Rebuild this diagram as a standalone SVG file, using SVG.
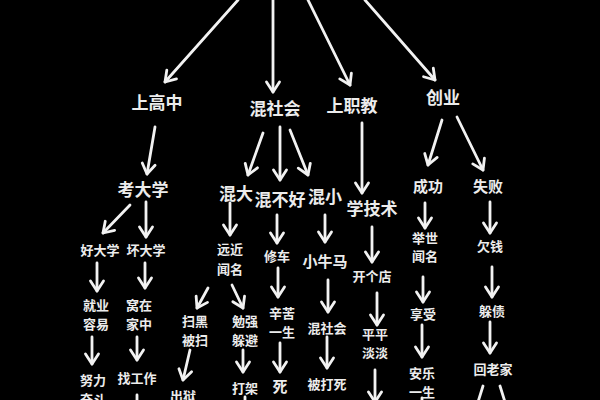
<svg xmlns="http://www.w3.org/2000/svg" width="600" height="400" viewBox="0 0 600 400">
<defs>
<style>
text{font-family:"Noto Sans CJK SC","Noto Sans",sans-serif;fill:#ececec;text-anchor:middle;dominant-baseline:central;font-weight:bold}
.l{font-size:17px}
.m{font-size:15px}
.s{font-size:13px}
.c line{stroke:#f2f2f2;stroke-width:2.8;stroke-linecap:round;marker-end:url(#ah)}
.c .p{marker-end:none}
</style>
<marker id="ah" markerUnits="userSpaceOnUse" markerWidth="24" markerHeight="24" viewBox="-12 -12 24 24" refX="0" refY="0" orient="auto">
<path d="M-10,-6.5 L0,0 L-10,6.5" fill="none" stroke="#f2f2f2" stroke-width="2.8" stroke-linecap="round" stroke-linejoin="round"/>
</marker>
</defs>
<rect width="600" height="400" fill="#000"/>
<g id="connectors" class="c">
<line x1="238" y1="0" x2="165" y2="82"/>
<line x1="273" y1="0" x2="273" y2="92"/>
<line x1="308" y1="0" x2="350" y2="85"/>
<line x1="365" y1="0" x2="435" y2="80"/>
<line x1="155" y1="127" x2="147" y2="174"/>
<line x1="263" y1="133" x2="248" y2="175"/>
<line x1="280" y1="127" x2="280" y2="180"/>
<line x1="290" y1="130" x2="308" y2="175"/>
<line x1="362" y1="123" x2="362" y2="193"/>
<line x1="442" y1="120" x2="428" y2="165"/>
<line x1="457" y1="117" x2="483" y2="170"/>
<line x1="130" y1="205" x2="103" y2="233"/>
<line x1="146" y1="202" x2="146" y2="237"/>
<line x1="230" y1="203" x2="230" y2="235"/>
<line x1="277" y1="215" x2="277" y2="243"/>
<line x1="325" y1="215" x2="325" y2="242"/>
<line x1="372" y1="227" x2="372" y2="262"/>
<line x1="425" y1="203" x2="425" y2="228"/>
<line x1="490" y1="202" x2="490" y2="233"/>
<line x1="97" y1="263" x2="97" y2="291"/>
<line x1="145" y1="263" x2="145" y2="288"/>
<line x1="208" y1="288" x2="197" y2="308"/>
<line x1="232" y1="285" x2="243" y2="308"/>
<line x1="278" y1="268" x2="278" y2="297"/>
<line x1="328" y1="280" x2="328" y2="312"/>
<line x1="377" y1="293" x2="377" y2="325"/>
<line x1="423" y1="277" x2="423" y2="302"/>
<line x1="492" y1="267" x2="492" y2="297"/>
<line x1="92" y1="337" x2="92" y2="364"/>
<line x1="137" y1="337" x2="137" y2="360"/>
<line x1="190" y1="350" x2="183" y2="380"/>
<line x1="243" y1="350" x2="243" y2="372"/>
<line x1="280" y1="343" x2="280" y2="372"/>
<line x1="327" y1="337" x2="327" y2="368"/>
<line x1="375" y1="370" x2="375" y2="402"/>
<line x1="422" y1="325" x2="422" y2="357"/>
<line x1="490" y1="322" x2="490" y2="353"/>
<line class="p" x1="137" y1="395" x2="137" y2="402"/>
<line class="p" x1="245" y1="397" x2="245" y2="402"/>
<line class="p" x1="422" y1="398" x2="422" y2="402"/>
<line class="p" x1="483" y1="386" x2="478" y2="402"/>
<line class="p" x1="500" y1="386" x2="505" y2="402"/>
</g>
<g id="n-shanggaozhong"><text class="l" x="157" y="101">上高中</text></g>
<g id="n-hunshehui"><text class="l" x="275" y="107">混社会</text></g>
<g id="n-shangzhijiao"><text class="l" x="352" y="104">上职教</text></g>
<g id="n-chuangye"><text class="l" x="443" y="96">创业</text></g>
<g id="n-kaodaxue"><text class="l" x="143" y="188">考大学</text></g>
<g id="n-hunda"><text class="l" x="236" y="192">混大</text></g>
<g id="n-hunbuhao"><text class="l" x="280" y="198">混不好</text></g>
<g id="n-hunxiao"><text class="l" x="325" y="195">混小</text></g>
<g id="n-xuejishu"><text class="l" x="372" y="207">学技术</text></g>
<g id="n-chenggong"><text class="m" x="428" y="185">成功</text></g>
<g id="n-shibai"><text class="m" x="488" y="185">失败</text></g>
<g id="n-haodaxue"><text class="s" x="100" y="249">好大学</text></g>
<g id="n-huaidaxue"><text class="s" x="146" y="249">坏大学</text></g>
<g id="n-yuanjinwenming"><text class="s" x="230" y="248">远近<tspan x="230" dy="20">闻名</tspan></text></g>
<g id="n-xiuche"><text class="s" x="277" y="255">修车</text></g>
<g id="n-xiaoniuma"><text class="m" x="325" y="260">小牛马</text></g>
<g id="n-kaigedian"><text class="s" x="372" y="275">开个店</text></g>
<g id="n-jushiwenming"><text class="s" x="425" y="237">举世<tspan x="425" dy="18">闻名</tspan></text></g>
<g id="n-qianqian"><text class="s" x="490" y="245">欠钱</text></g>
<g id="n-jiuyerongyi"><text class="s" x="96" y="304">就业<tspan x="96" dy="18.5">容易</tspan></text></g>
<g id="n-wozaijiazhong"><text class="s" x="139" y="304">窝在<tspan x="139" dy="18.5">家中</tspan></text></g>
<g id="n-saoheibeisao"><text class="s" x="195" y="320">扫黑<tspan x="195" dy="18.5">被扫</tspan></text></g>
<g id="n-mianqiangduobi"><text class="s" x="245" y="320">勉强<tspan x="245" dy="18.5">躲避</tspan></text></g>
<g id="n-xinkuyisheng"><text class="s" x="282" y="312">辛苦<tspan x="282" dy="18.5">一生</tspan></text></g>
<g id="n-hunshehui2"><text class="s" x="327" y="327">混社会</text></g>
<g id="n-pingpingdandan"><text class="s" x="375" y="333">平平<tspan x="375" dy="19">淡淡</tspan></text></g>
<g id="n-xiangshou"><text class="s" x="423" y="313">享受</text></g>
<g id="n-duozhai"><text class="s" x="492" y="310">躲债</text></g>
<g id="n-nulifendou"><text class="s" x="93" y="379">努力<tspan x="93" dy="18.5">奋斗</tspan></text></g>
<g id="n-zhaogongzuo"><text class="s" x="137" y="377">找工作</text></g>
<g id="n-chuyu"><text class="s" x="183" y="395">出狱</text></g>
<g id="n-dajia"><text class="s" x="245" y="387">打架</text></g>
<g id="n-si"><text class="m" x="280" y="385">死</text></g>
<g id="n-beidasi"><text class="s" x="327" y="383">被打死</text></g>
<g id="n-anleyisheng"><text class="s" x="422" y="372">安乐<tspan x="422" dy="18.5">一生</tspan></text></g>
<g id="n-huilaojia"><text class="s" x="493" y="368">回老家</text></g>
</svg>
